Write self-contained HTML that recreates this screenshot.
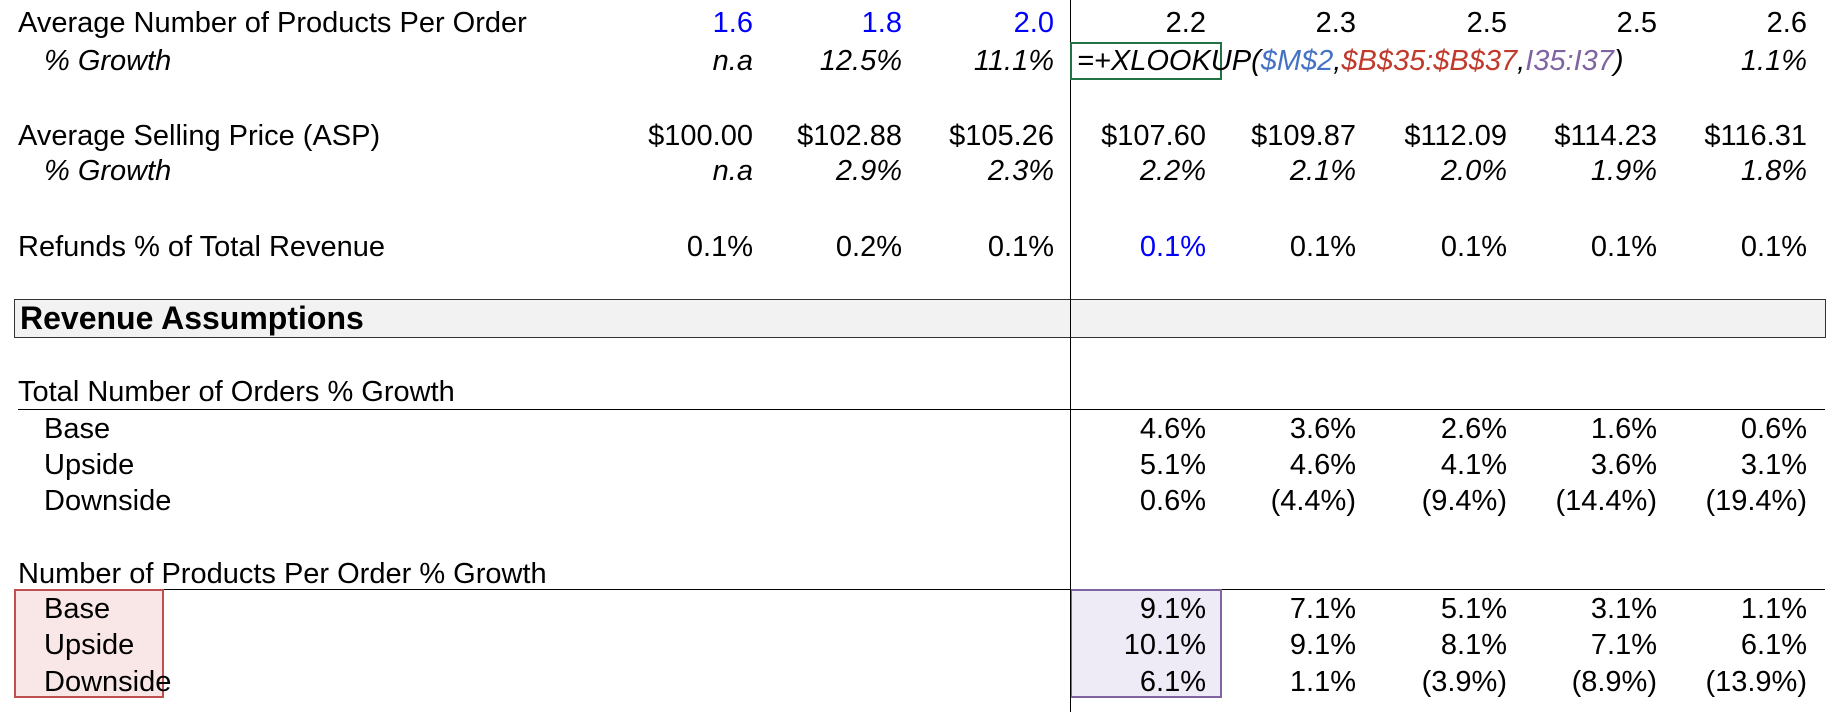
<!DOCTYPE html>
<html><head><meta charset="utf-8"><style>
body{margin:0;width:1836px;height:712px;background:#fff;position:relative;overflow:hidden;font-family:"Liberation Sans",Arial,sans-serif;font-size:29px;color:#000}
.t{position:absolute;line-height:36px;white-space:nowrap}
.r{position:absolute;line-height:36px;white-space:nowrap;text-align:right;width:200px}
.i{font-style:italic}
.b{color:#0000ff}
.h{position:absolute;background:#000}
</style></head><body>
<div style="position:absolute;left:14px;top:299px;width:1810px;height:37px;background:#f2f2f2;border:1px solid #333"></div>
<div style="position:absolute;left:14px;top:589px;width:150px;height:109px;background:#f9e6e6;border:2px solid #c0504d;box-sizing:border-box"></div>
<div style="position:absolute;left:1070px;top:589px;width:152px;height:109px;background:#eeeaf6;border:2px solid #8064a2;box-sizing:border-box"></div>
<div class="h" style="left:1070px;top:0;width:1px;height:712px"></div>
<div class="h" style="left:18px;top:409px;width:1807px;height:1px"></div>
<div class="h" style="left:164px;top:589px;width:906px;height:1px"></div>
<div class="h" style="left:1222px;top:589px;width:603px;height:1px"></div>
<div style="position:absolute;left:1070px;top:42px;width:152px;height:38px;border:2px solid #217346;box-sizing:border-box"></div>

<div class="t" style="left:18px;top:5px">Average Number of Products Per Order</div>
<div class="t i" style="left:44px;top:43px">% Growth</div>
<div class="t" style="left:18px;top:118px">Average Selling Price (ASP)</div>
<div class="t i" style="left:44px;top:153px">% Growth</div>
<div class="t" style="left:18px;top:229px">Refunds % of Total Revenue</div>
<div class="t" style="left:20px;top:300px;font-weight:bold;font-size:32px">Revenue Assumptions</div>
<div class="t" style="left:18px;top:374px">Total Number of Orders % Growth</div>
<div class="t" style="left:44px;top:411px">Base</div>
<div class="t" style="left:44px;top:447px">Upside</div>
<div class="t" style="left:44px;top:483px">Downside</div>
<div class="t" style="left:18px;top:556px">Number of Products Per Order % Growth</div>
<div class="t" style="left:44px;top:591px">Base</div>
<div class="t" style="left:44px;top:627px">Upside</div>
<div class="t" style="left:44px;top:664px">Downside</div>

<div class="t i" style="left:1077px;top:43px">=+XLOOKUP(<span style="color:#4472c4">$M$2</span>,<span style="color:#c0392b">$B$35:$B$37</span>,<span style="color:#8064a2">I35:I37</span>)</div>

<div id="g"></div>
<script>
var R=[753,902,1054,1206,1356,1507,1657,1807];
var rows=[
[5,["1.6","1.8","2.0","2.2","2.3","2.5","2.5","2.6"],[1,1,1,0,0,0,0,0],0],
[43,["n.a","12.5%","11.1%","","","","","1.1%"],null,1],
[118,["$100.00","$102.88","$105.26","$107.60","$109.87","$112.09","$114.23","$116.31"],null,0],
[153,["n.a","2.9%","2.3%","2.2%","2.1%","2.0%","1.9%","1.8%"],null,1],
[229,["0.1%","0.2%","0.1%","0.1%","0.1%","0.1%","0.1%","0.1%"],[0,0,0,1,0,0,0,0],0],
[411,["","","","4.6%","3.6%","2.6%","1.6%","0.6%"],null,0],
[447,["","","","5.1%","4.6%","4.1%","3.6%","3.1%"],null,0],
[483,["","","","0.6%","(4.4%)","(9.4%)","(14.4%)","(19.4%)"],null,0],
[591,["","","","9.1%","7.1%","5.1%","3.1%","1.1%"],null,0],
[627,["","","","10.1%","9.1%","8.1%","7.1%","6.1%"],null,0],
[664,["","","","6.1%","1.1%","(3.9%)","(8.9%)","(13.9%)"],null,0]];
var h="";
rows.forEach(function(r){r[1].forEach(function(v,i){if(!v)return;
var cls="r"+(r[3]?" i":"")+(r[2]&&r[2][i]?" b":"");
h+='<div class="'+cls+'" style="left:'+(R[i]-200)+'px;top:'+r[0]+'px">'+v+'</div>';});});
document.getElementById("g").innerHTML=h;
</script>
</body></html>
